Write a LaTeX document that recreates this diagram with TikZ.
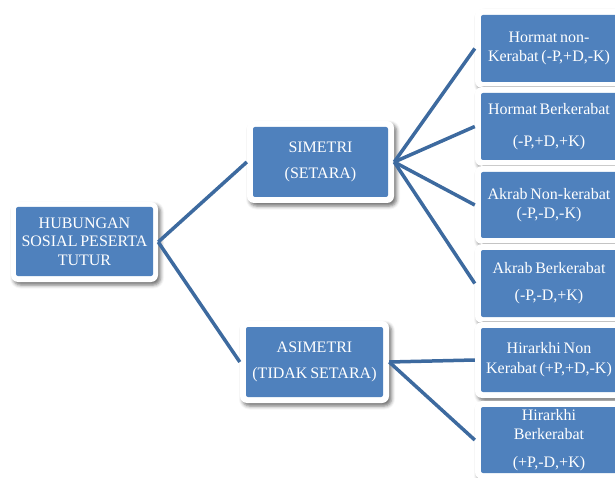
\documentclass[tikz,border=0pt]{standalone}
\usepackage{fontspec}
\setmainfont{Liberation Serif}[WordSpace=0.7]
\usetikzlibrary{shadows.blur}
\definecolor{boxblue}{HTML}{4F81BD}
\definecolor{lineblue}{HTML}{3D6A9F}
\begin{document}
\begin{tikzpicture}[x=1pt,y=-1pt,
  frame/.style={fill=white, rounded corners=7pt, inner sep=0pt,
    blur shadow={shadow xshift=2.5pt, shadow yshift=-3pt, shadow blur radius=3.5pt, shadow opacity=55}},
  box/.style={fill=boxblue, rounded corners=2pt, text=white, align=center, inner sep=0pt,
    font=\fontsize{16}{18.5}\selectfont},
  conn/.style={draw=lineblue, line width=3.5pt}]
\clip (0,0) rectangle (615,478);
\useasboundingbox (0,0) rectangle (615,478);
% root
\node[frame, minimum width=147pt, minimum height=80pt] (rootF) at (84.5,242) {};
\node[box, minimum width=137pt, minimum height=69pt] (root) at (84.5,241.5) {HUBUNGAN\\SOSIAL PESERTA\\TUTUR};
% middle
\node[frame, minimum width=147pt, minimum height=82pt] (simF) at (320.5,162) {};
\node[box, minimum width=135pt, minimum height=70pt] (sim) at (320.5,162) {SIMETRI\\[7.5pt](SETARA)};
\node[frame, minimum width=149pt, minimum height=82pt] (asimF) at (314.5,362) {};
\node[box, minimum width=137pt, minimum height=70pt] (asim) at (314.5,362) {ASIMETRI\\[7.5pt](TIDAK SETARA)};
% right column
\node[frame, minimum width=148pt, minimum height=79pt] (r1F) at (549,48.5) {};
\node[box, minimum width=136pt, minimum height=67pt] (r1) at (549,48.5) {Hormat non-\\Kerabat (-P,+D,-K)};
\node[frame, minimum width=148pt, minimum height=79pt] (r2F) at (549,126.5) {};
\node[box, minimum width=136pt, minimum height=67pt] (r2) at (549,126.5) {Hormat Berkerabat\\[13.5pt](-P,+D,+K)};
\node[frame, minimum width=148pt, minimum height=78pt] (r3F) at (549,205) {};
\node[box, minimum width=136pt, minimum height=66pt] (r3) at (549,205) {Akrab Non-kerabat\\(-P,-D,-K)};
\node[frame, minimum width=148pt, minimum height=79pt] (r4F) at (549,283.5) {};
\node[box, minimum width=136pt, minimum height=67pt] (r4) at (549,283.5) {Akrab Berkerabat\\[8.5pt](-P,-D,+K)};
\node[frame, minimum width=148pt, minimum height=76pt] (r5F) at (549,360) {};
\node[box, minimum width=136pt, minimum height=64pt] (r5) at (549,360) {Hirarkhi Non\\[1.5pt]Kerabat (+P,+D,-K)};
\node[frame, minimum width=148pt, minimum height=78pt] (r6F) at (549,440) {};
\node[box, minimum width=136pt, minimum height=66pt] (r6) at (549,440) {Hirarkhi\\Berkerabat\\[9.5pt](+P,-D,+K)};
% connectors
\draw[conn] (rootF.east) -- (simF.west);
\draw[conn] (rootF.east) -- (asimF.west);
\draw[conn] (simF.east) -- (r1F.west);
\draw[conn] (simF.east) -- (r2F.west);
\draw[conn] (simF.east) -- (r3F.west);
\draw[conn] (simF.east) -- (r4F.west);
\draw[conn] (asimF.east) -- (r5F.west);
\draw[conn] (asimF.east) -- (r6F.west);
\end{tikzpicture}
\end{document}
